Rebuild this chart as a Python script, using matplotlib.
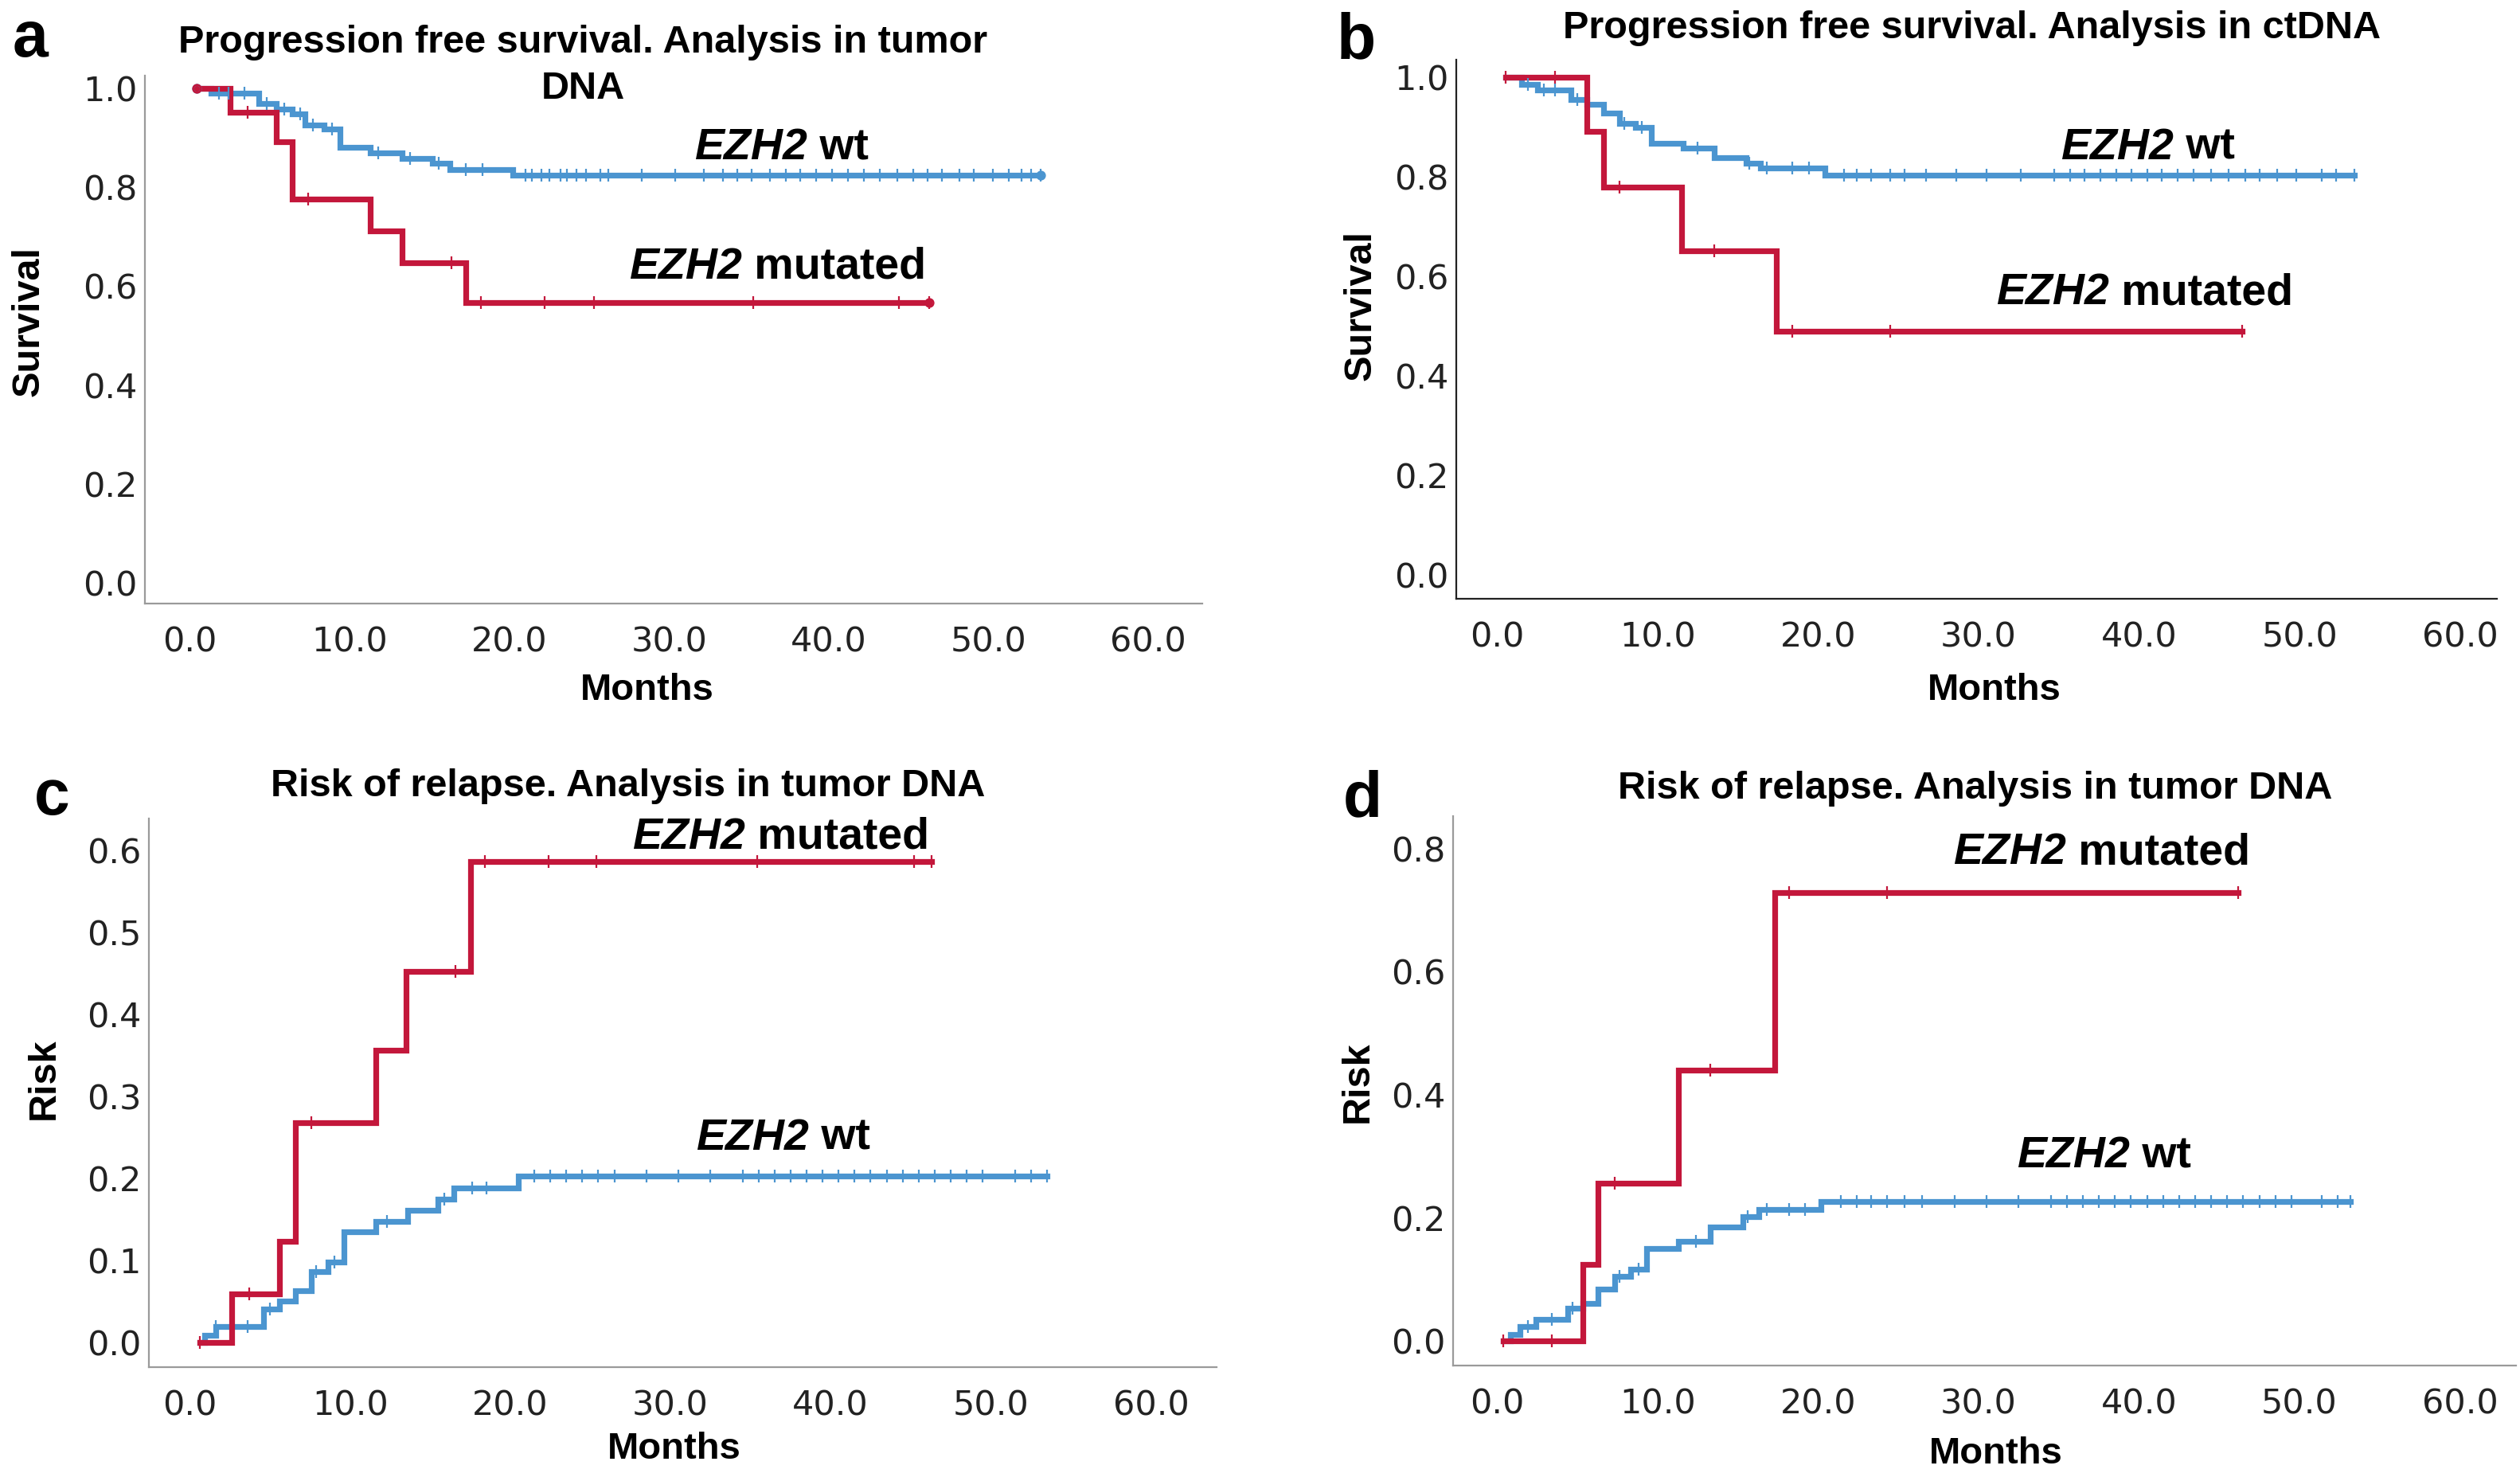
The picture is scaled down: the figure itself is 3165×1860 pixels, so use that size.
import matplotlib
matplotlib.use("Agg")
import matplotlib.pyplot as plt

W, H = 3165, 1860
RED = "#c3173b"
BLUE = "#4b95d0"

# panel a: PFS, tumor DNA
a_mut_t = [0.4, 2.5, 5.4, 6.4, 11.3, 13.3, 17.3, 46.3]
a_mut_s = [1.0, 0.952, 0.893, 0.776, 0.712, 0.647, 0.567, 0.567]
a_mut_c = [3.6, 7.4, 16.4, 18.2, 22.2, 25.3, 35.3, 44.4]
a_wt_t = [0.4, 1.3, 4.3, 5.4, 6.4, 7.2, 8.4, 9.4, 11.3, 13.3, 15.2, 16.3, 20.2, 53.3]
a_wt_s = [1.0, 0.991, 0.969, 0.959, 0.948, 0.926, 0.918, 0.881, 0.870, 0.859,
          0.849, 0.836, 0.824, 0.824]
a_wt_c = [1.8, 2.4, 3.4, 4.8, 5.9, 6.9, 7.7, 8.9, 11.8, 13.8, 15.6, 17.3, 18.3,
          21.0, 21.4, 22.0, 22.5, 23.2, 23.6, 24.2, 24.8, 25.7, 26.2, 28.3, 30.4,
          32.2, 33.4, 34.3, 35.2, 36.3, 37.3, 38.2, 39.2, 40.2, 41.2, 42.2, 43.2,
          44.3, 45.3, 46.2, 47.1, 48.2, 49.1, 50.3, 51.3, 52.1, 52.7]

# panel b: PFS, ctDNA
b_mut_t = [0.5, 5.6, 6.6, 11.5, 17.4, 46.4]
b_mut_s = [1.0, 0.891, 0.779, 0.651, 0.490, 0.490]
b_mut_c = [0.5, 3.6, 7.6, 13.5, 18.4, 24.5]
b_wt_t = [0.5, 1.5, 2.5, 4.6, 5.6, 6.6, 7.6, 8.6, 9.6, 11.6, 13.5, 15.5, 16.4, 20.4, 53.4]
b_wt_s = [1.0, 0.985, 0.974, 0.955, 0.945, 0.928, 0.907, 0.899, 0.867, 0.857,
          0.838, 0.827, 0.817, 0.803, 0.803]
b_wt_c = [1.9, 2.9, 3.6, 5.0, 7.9, 9.0, 12.5, 15.7, 16.8, 18.4, 19.4,
          21.6, 22.4, 23.3, 24.5, 25.4, 26.7, 28.6, 30.5, 32.6, 34.7, 35.7, 36.6,
          37.6, 38.6, 39.5, 40.5, 41.4, 42.4, 43.4, 44.5, 45.6, 46.6, 47.5, 48.6,
          49.8, 51.4, 52.3]

# panel c: risk, tumor DNA
c_mut_t = [0.6, 2.6, 5.6, 6.6, 11.6, 13.5, 17.5, 46.3]
c_mut_r = [0.0, 0.059, 0.123, 0.268, 0.356, 0.453, 0.587, 0.587]
c_mut_c = [0.6, 3.7, 7.6, 16.6, 18.4, 22.4, 25.4, 35.4, 45.2]
c_wt_t = [0.6, 0.9, 1.6, 4.6, 5.6, 6.6, 7.6, 8.6, 9.6, 11.6, 13.6, 15.5, 16.5, 20.5, 53.5]
c_wt_r = [0.0, 0.009, 0.020, 0.041, 0.051, 0.063, 0.087, 0.098, 0.135, 0.148,
          0.161, 0.175, 0.188, 0.203, 0.203]
c_wt_c = [1.6, 3.6, 5.0, 7.9, 9.0, 12.3, 15.9, 17.6, 18.5,
          21.5, 22.5, 23.5, 24.5, 25.5, 26.5, 28.5, 30.5, 32.5, 34.5, 35.5, 36.5,
          37.5, 38.5, 39.5, 40.5, 41.5, 42.5, 43.5, 44.5, 45.5, 46.5, 47.5, 48.5,
          49.5, 51.5, 52.5]

# panel d: risk, ctDNA
d_mut_t = [0.4, 5.35, 6.3, 11.3, 17.3, 46.2]
d_mut_r = [0.0, 0.124, 0.257, 0.440, 0.729, 0.729]
d_mut_c = [0.4, 3.4, 7.3, 13.3, 18.2, 24.3]
d_wt_t = [0.4, 0.8, 1.4, 2.4, 4.4, 5.35, 6.3, 7.3, 8.3, 9.3, 11.3, 13.3, 15.3, 16.3, 20.2, 53.2]
d_wt_r = [0.0, 0.011, 0.023, 0.035, 0.053, 0.061, 0.084, 0.105, 0.116, 0.150,
          0.162, 0.185, 0.202, 0.214, 0.226, 0.226]
d_wt_c = [1.9, 3.4, 4.7, 7.6, 8.8, 12.4, 15.6, 16.8, 18.2, 19.2,
          21.4, 22.4, 23.3, 24.3, 25.4, 26.5, 28.5, 30.5, 32.5, 34.5, 35.5, 36.5,
          37.5, 38.5, 39.5, 40.5, 41.5, 42.5, 43.5, 44.5, 45.5, 46.5, 47.5, 48.5,
          49.5, 51.4, 52.4]

xticks = [0, 10, 20, 30, 40, 50, 60]


def box(x0, y0, x1, y1):
    return [x0 / W, 1 - y1 / H, (x1 - x0) / W, (y1 - y0) / H]


def ftext(px, py, s, **kw):
    fig.text(px / W, 1 - py / H, s, ha="center", va="center",
             family="Liberation Sans", weight="bold", **kw)


def curve(ax, t, y, cens, color, circles=False):
    ax.step(t, y, where="post", color=color, lw=5.2, solid_joinstyle="miter",
            zorder=3)
    cy = [y[max(i for i in range(len(t)) if t[i] <= c)] for c in cens]
    ax.plot(cens, cy, ls="none", marker="|", ms=11, mew=1.6, color=color, zorder=4)
    ax.plot([t[-1]], [y[-1]], ls="none", marker="|", ms=11, mew=1.6, color=color)
    if circles:
        ax.plot([t[0], t[-1]], [y[0], y[-1]], ls="none", marker="o", ms=7,
                mfc="none", mew=1.8, color=color, zorder=4)


def label(ax, x, y, rest):
    t = ax.text(x, y, "EZH2", family="Liberation Sans", weight="bold",
                style="italic", fontsize=40, va="center", ha="left")
    ax.annotate(" " + rest, xy=(1, 0), xycoords=t, va="bottom", ha="left",
                family="Liberation Sans", weight="bold", fontsize=40)


def setup(ax, xlim, ylim, yticks, spine_color):
    ax.set_xlim(*xlim)
    ax.set_ylim(*ylim)
    ax.set_xticks(xticks)
    ax.set_xticklabels([f"{v:.1f}" for v in xticks])
    ax.set_yticks(yticks)
    ax.set_yticklabels([f"{v:.1f}" for v in yticks])
    for s in ["top", "right"]:
        ax.spines[s].set_visible(False)
    for s in ["left", "bottom"]:
        ax.spines[s].set_color(spine_color)
        ax.spines[s].set_linewidth(1.6)
    ax.tick_params(axis="x", length=0, pad=20, labelsize=31, labelcolor="#222222")
    ax.tick_params(axis="y", length=0, pad=7, labelsize=31, labelcolor="#222222")
    for lab in ax.get_xticklabels() + ax.get_yticklabels():
        lab.set_family("DejaVu Sans")


fig = plt.figure(figsize=(W / 100, H / 100), dpi=100)

# a
ax = fig.add_axes(box(182, 95, 1510, 758))
setup(ax, (-2.82, 63.4), (-0.042, 1.026), [0.0, 0.2, 0.4, 0.6, 0.8, 1.0], "#9a9a9a")
curve(ax, a_wt_t, a_wt_s, a_wt_c, BLUE, circles=True)
curve(ax, a_mut_t, a_mut_s, a_mut_c, RED, circles=True)
label(ax, 31.6, 0.879, "wt")
label(ax, 27.5, 0.638, "mutated")
ftext(732, 54, "Progression free survival. Analysis in tumor", fontsize=35)
ftext(732, 112, "DNA", fontsize=35)
ftext(38, 50, "a", fontsize=58)
ftext(36, 404, "Survival", fontsize=35, rotation=90)
ftext(813, 867, "Months", fontsize=34)

# b
ax = fig.add_axes(box(1829, 75, 3136, 752))
setup(ax, (-2.56, 62.3), (-0.048, 1.035), [0.0, 0.2, 0.4, 0.6, 0.8, 1.0], "#222222")
curve(ax, b_wt_t, b_wt_s, b_wt_c, BLUE)
curve(ax, b_mut_t, b_mut_s, b_mut_c, RED)
label(ax, 35.1, 0.858, "wt")
label(ax, 31.1, 0.566, "mutated")
ftext(2477, 36, "Progression free survival. Analysis in ctDNA", fontsize=35)
ftext(1703, 52, "b", fontsize=58)
ftext(1709, 384, "Survival", fontsize=35, rotation=90)
ftext(2505, 867, "Months", fontsize=34)

# c
ax = fig.add_axes(box(187, 1028, 1528, 1717))
setup(ax, (-2.56, 64.1), (-0.030, 0.639), [0.0, 0.1, 0.2, 0.3, 0.4, 0.5, 0.6], "#9a9a9a")
curve(ax, c_wt_t, c_wt_r, c_wt_c, BLUE)
curve(ax, c_mut_t, c_mut_r, c_mut_c, RED)
label(ax, 27.6, 0.616, "mutated")
label(ax, 31.6, 0.249, "wt")
ftext(789, 988, "Risk of relapse. Analysis in tumor DNA", fontsize=35)
ftext(65, 1002, "c", fontsize=58)
ftext(55, 1355, "Risk", fontsize=35, rotation=90)
ftext(847, 1820, "Months", fontsize=34)

# d
ax = fig.add_axes(box(1825, 1025, 3160, 1715))
setup(ax, (-2.75, 63.5), (-0.040, 0.853), [0.0, 0.2, 0.4, 0.6, 0.8], "#9a9a9a")
curve(ax, d_wt_t, d_wt_r, d_wt_c, BLUE)
curve(ax, d_mut_t, d_mut_r, d_mut_c, RED)
label(ax, 28.4, 0.793, "mutated")
label(ax, 32.4, 0.300, "wt")
ftext(2481, 990, "Risk of relapse. Analysis in tumor DNA", fontsize=35)
ftext(1711, 1004, "d", fontsize=58)
ftext(1705, 1359, "Risk", fontsize=35, rotation=90)
ftext(2507, 1826, "Months", fontsize=34)

fig.savefig("out.png", dpi=100, facecolor="white")
